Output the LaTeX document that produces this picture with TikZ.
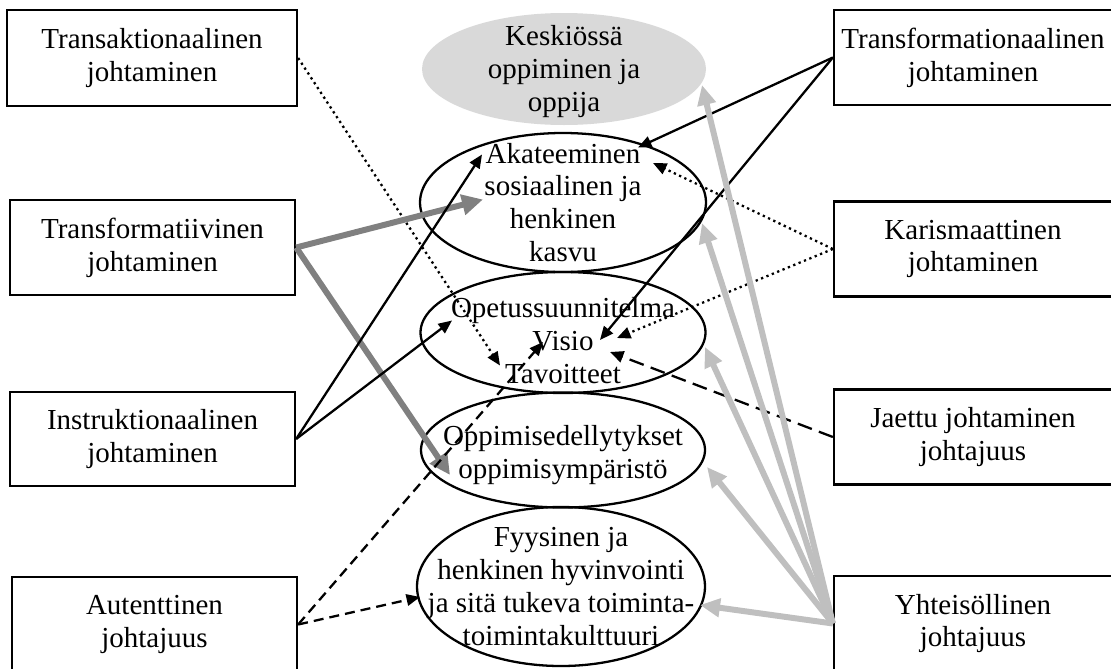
\documentclass[tikz,border=0pt]{standalone}
\usepackage{fontspec}
\setmainfont{Liberation Serif}
\usetikzlibrary{arrows.meta,shapes.geometric}

\begin{document}
\begin{tikzpicture}[font=\fontsize{16.5}{18.7}\selectfont]
\tikzstyle{boksi}=[rectangle,draw,line width=1.3pt,minimum width=5.7cm,minimum height=1.9cm,align=center,inner sep=0pt]
\tikzstyle{oikea}=[boksi,minimum width=5.56cm]
\tikzstyle{soikio}=[ellipse,draw,line width=1.3pt,inner sep=0pt]
\tikzstyle{teksti}=[align=center,inner sep=0pt]
\tikzstyle{musta}=[line width=1.3pt,-{Triangle[length=0.27cm,width=0.23cm]}]
\tikzstyle{pisteet}=[musta,dotted]
\tikzstyle{katko}=[musta,dash pattern=on 0.2cm off 0.12cm]
\tikzstyle{tumma}=[draw=black!50,line width=3.4pt,-{Triangle[length=0.42cm,width=0.4cm]}]
\tikzstyle{vaalea}=[draw=black!25,line width=3.4pt,-{Triangle[length=0.4cm,width=0.36cm]}]
\useasboundingbox (0,0) rectangle (22.22,-13.36);
% vasen sarake
\node [boksi,minimum width=5.8cm,minimum height=1.92cm] (transak) at (3.04,-1.16) {Transaktionaalinen\\johtaminen};
\node [boksi] (tfmv) at (3.05,-4.95) {Transformatiivinen\\johtaminen};
\node [boksi,minimum height=1.88cm] (instr) at (3.05,-8.78) {Instruktionaalinen\\johtaminen};
\node [boksi] (autent) at (3.09,-12.49) {Autenttinen\\johtajuus};
% oikea sarake
\node [oikea] (tfmn) at (19.46,-1.15) {Transformationaalinen\\johtaminen};
\node [oikea] (kar) at (19.46,-4.98) {Karismaattinen\\johtaminen};
\node [oikea] (jaet) at (19.46,-8.74) {Jaettu johtaminen\\johtajuus};
\node [oikea] (yht) at (19.46,-12.47) {Yhteisöllinen\\johtajuus};
% keskella
\node [soikio,draw=none,fill=black!15,minimum width=5.68cm,minimum height=2.24cm] (kesk) at (11.28,-1.38) {};
\node [soikio,minimum width=5.72cm,minimum height=2.78cm] (ake) at (11.26,-4.05) {};
\node [soikio,minimum width=5.7cm,minimum height=2.42cm] (opet) at (11.26,-6.65) {};
\node [soikio,minimum width=5.68cm,minimum height=2.3cm] (opp) at (11.26,-9.0) {};
\node [soikio,minimum width=5.76cm,minimum height=3.18cm] (fyy) at (11.22,-11.73) {};
\node [teksti] (kesk-t) at ([yshift=-0.05cm]kesk.center) {Keskiössä\\oppiminen ja\\oppija};
\node [teksti] (ake-t) at (ake.center) {Akateeminen\\sosiaalinen ja\\henkinen\\kasvu};
\node [teksti] (opet-t) at ([yshift=-0.16cm]opet.center) {Opetussuunnitelma\\Visio\\Tavoitteet};
\node [teksti] (opp-t) at ([yshift=-0.1cm]opp.center) {Oppimisedellytykset\\oppimisympäristö};
\node [teksti] (fyy-t) at (fyy.center) {Fyysinen ja\\henkinen hyvinvointi\\ja sitä tukeva toiminta-\\toimintakulttuuri};
% yhteydet
\draw [pisteet] (transak.east) -- ([shift={(-1.26,-0.66)}]opet.center);
\draw [tumma] (tfmv.east) -- ([shift={(-1.6,0.06)}]ake.center);
\draw [tumma] (tfmv.east) -- ([shift={(-2.26,-0.5)}]opp.center);
\draw [musta] (instr.east) -- ([shift={(-1.62,0.96)}]ake.center);
\draw [musta] (instr.east) -- ([shift={(-2.22,0.24)}]opet.center);
\draw [katko] (autent.east) -- ([shift={(-0.4,-0.19)}]opet.center);
\draw [katko] (autent.east) -- ([shift={(-2.82,-0.21)}]fyy.center);
\draw [musta] (tfmn.west) -- ([shift={(1.5,1.1)}]ake.center);
\draw [musta] (tfmn.west) -- ([shift={(0.74,-0.15)}]opet.center);
\draw [pisteet] (kar.west) -- ([shift={(1.8,0.79)}]ake.center);
\draw [pisteet] (kar.west) -- ([shift={(1.08,-0.11)}]opet.center);
\draw [katko,dash pattern=on 0.3cm off 0.15cm] (jaet.west) -- ([shift={(0.94,-0.39)}]opet.center);
\draw [vaalea] (yht.west) -- ([shift={(2.76,-0.32)}]kesk.center);
\draw [vaalea] (yht.west) -- ([shift={(2.78,-0.41)}]ake.center);
\draw [vaalea] (yht.west) -- ([shift={(2.84,-0.29)}]opet.center);
\draw [vaalea] (yht.west) -- ([shift={(2.88,-0.34)}]opp.center);
\draw [vaalea] (yht.west) -- ([shift={(2.78,-0.37)}]fyy.center);
\end{tikzpicture}
\end{document}
